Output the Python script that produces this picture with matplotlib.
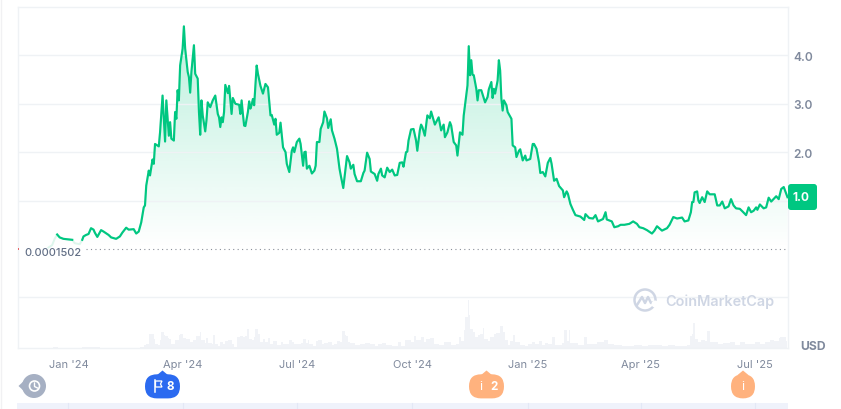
import numpy as np
import matplotlib
matplotlib.use('Agg')
import matplotlib.pyplot as plt
from matplotlib.patches import Circle, FancyBboxPatch, Polygon

plt.rcParams['font.family'] = ['Inter', 'DejaVu Sans']

# Price series, days counted from 1 Jan 2024
days = [-16, -13, -11, -9, -7, -4, 3, 5, 9, 11, 12, 14, 16, 18, 20, 21, 23, 26, 28, 32, 34, 38, 41, 43, 46, 48, 52, 54, 56, 58,
        60, 61, 62, 64, 65, 67, 68, 69, 72, 73, 75, 77, 78, 80, 81, 82, 84, 85, 86, 87, 88, 89, 91, 92, 93, 95, 96, 97, 98, 100,
        101, 103, 104, 105, 106, 107, 109, 110, 111, 113, 115, 117, 119, 120, 121, 122, 123, 124, 125, 127, 128, 130, 131, 133, 136, 137, 138, 139, 140, 141,
        143, 144, 145, 146, 147, 148, 150, 151, 153, 155, 157, 159, 161, 162, 164, 165, 166, 168, 169, 171, 173, 174, 176, 178, 179, 180, 182, 184, 185, 187,
        188, 189, 190, 192, 194, 196, 197, 198, 200, 201, 203, 204, 206, 207, 209, 210, 212, 214, 216, 217, 219, 222, 224, 225, 227, 228, 230, 233, 235, 236,
        238, 240, 241, 244, 246, 247, 249, 250, 252, 254, 256, 258, 260, 262, 264, 266, 267, 269, 270, 271, 273, 275, 277, 278, 280, 281, 282, 284, 286, 288,
        289, 291, 292, 295, 297, 299, 300, 302, 304, 305, 307, 309, 310, 312, 314, 315, 317, 318, 319, 320, 321, 322, 323, 325, 326, 327, 329, 332, 334, 335,
        337, 338, 339, 340, 342, 343, 344, 345, 346, 347, 349, 350, 353, 354, 356, 357, 359, 360, 362, 364, 365, 368, 370, 371, 373, 375, 376, 378, 380, 382,
        384, 385, 387, 389, 391, 394, 395, 397, 398, 400, 402, 404, 408, 411, 412, 415, 418, 420, 422, 426, 428, 429, 433, 435, 438, 440, 443, 447, 450, 453,
        455, 458, 461, 465, 467, 469, 473, 477, 479, 482, 485, 489, 491, 494, 496, 497, 498, 499, 501, 502, 503, 505, 507, 509, 511, 515, 517, 519, 521, 523,
        526, 528, 530, 532, 535, 537, 540, 542, 544, 546, 548, 549, 551, 554, 556, 558, 560, 564, 566, 568, 570, 572, 573]
prices = [.03, .08, .21, .30, .24, .21, .19, .12, .10, .19, .26, .29, .31, .43, .40, .34, .25, .39, .36, .29, .24, .21, .26, .34, .44, .40, .41, .32, .36, .55,
          .86, .90, 1.31, 1.62, 1.52, 1.85, 1.76, 2.17, 2.12, 2.41, 3.17, 2.22, 3.07, 2.34, 2.62, 2.28, 2.24, 2.83, 2.69, 3.28, 3.07, 3.79, 4.14, 4.60, 4.14, 3.66, 3.55, 3.23, 3.66, 4.21,
          3.62, 3.52, 2.83, 2.36, 3.07, 2.76, 2.43, 2.66, 3.03, 2.93, 3.07, 3.17, 2.79, 2.72, 2.52, 2.72, 2.62, 2.83, 3.39, 3.22, 3.37, 2.79, 3.12, 3.00, 2.98, 2.79, 3.07, 2.79, 2.55, 2.54,
          2.83, 3.05, 2.90, 2.98, 3.10, 2.97, 3.79, 3.62, 3.37, 3.21, 3.41, 3.34, 2.76, 2.77, 2.57, 2.69, 2.36, 2.40, 2.61, 2.10, 2.00, 1.76, 1.59, 2.03, 2.10, 2.00, 2.21, 2.28, 2.17, 1.72,
          2.00, 2.01, 1.66, 1.72, 1.56, 1.62, 1.72, 2.21, 2.21, 2.48, 2.62, 2.84, 2.70, 2.50, 2.68, 2.45, 2.28, 2.07, 1.66, 1.52, 1.26, 1.92, 1.79, 1.66, 1.74, 1.55, 1.40, 1.40, 1.57, 1.62,
          1.99, 1.86, 1.60, 1.55, 1.41, 1.55, 1.66, 1.52, 1.48, 1.68, 1.59, 1.64, 1.52, 1.53, 1.78, 1.79, 1.70, 2.00, 2.01, 2.24, 2.47, 2.48, 2.24, 2.03, 2.45, 2.57, 2.52, 2.34, 2.76, 2.70,
          2.84, 2.66, 2.57, 2.72, 2.45, 2.57, 2.31, 2.41, 2.62, 2.55, 2.21, 2.14, 1.93, 2.41, 2.36, 2.76, 3.17, 3.38, 4.19, 3.59, 3.90, 3.60, 3.59, 3.31, 3.07, 3.28, 3.28, 3.03, 3.14, 3.30,
          3.45, 3.12, 3.31, 3.21, 3.48, 3.90, 3.69, 3.10, 2.86, 3.07, 2.97, 2.83, 2.69, 2.14, 2.10, 1.90, 2.03, 2.06, 1.83, 1.93, 1.83, 1.86, 2.17, 2.17, 2.07, 1.79, 1.57, 1.59, 1.50, 1.78,
          1.88, 1.76, 1.41, 1.45, 1.30, 1.21, 1.07, 1.19, 1.14, .93, .81, .70, .67, .60, .72, .64, .63, .70, .57, .62, .76, .61, .57, .45, .47, .50, .50, .52, .57, .52,
          .45, .43, .39, .32, .38, .47, .38, .43, .50, .66, .63, .65, .57, .59, .76, .97, .97, 1.17, 1.19, 1.00, .95, 1.07, .97, 1.19, 1.13, 1.13, .90, .90, .98, .84,
          .88, 1.03, .90, .84, .83, .78, .70, .86, .76, .79, .86, .81, .92, .84, .86, 1.06, .98, 1.09, 1.03, 1.24, 1.28, 1.14, 1.07]

# Volume, relative height of the bars
volume_days = [-12, -8, 11, 25, 57, 60, 62, 64, 66, 68, 69, 71, 73, 74, 76, 77, 79, 80, 82, 85, 88, 89, 91, 94, 97, 99, 102, 105, 106, 109, 110, 111, 114, 115, 117, 119, 121, 123, 125, 127,
               130, 132, 134, 137, 139, 141, 142, 144, 146, 148, 149, 151, 153, 155, 157, 159, 161, 163, 166, 169, 171, 174, 176, 178, 180, 183, 185, 187, 189, 191, 192, 195, 197, 199, 202, 204, 207, 210, 212, 214,
               216, 218, 220, 221, 223, 224, 228, 232, 236, 240, 244, 247, 250, 253, 258, 263, 265, 268, 271, 273, 275, 277, 281, 283, 285, 288, 291, 295, 299, 302, 305, 309, 311, 313, 315, 316, 318, 319, 320, 322,
               324, 326, 328, 330, 331, 334, 336, 339, 341, 344, 346, 348, 350, 352, 354, 356, 360, 364, 366, 369, 372, 375, 377, 380, 382, 385, 388, 391, 393, 395, 397, 399, 400, 402, 406, 411, 413, 417, 421, 424,
               427, 430, 435, 441, 446, 451, 457, 462, 467, 473, 478, 483, 489, 493, 495, 497, 498, 499, 502, 504, 507, 509, 511, 514, 518, 522, 527, 531, 535, 539, 543, 547, 551, 555, 559, 562, 566, 567, 570, 572, 573]
volume = [1, 0, 1, 0, 1, 2.7, 4.3, 13.7, 13.7, 9.3, 4.3, 3.3, 7.7, 16, 12.7, 11.7, 10, 9.3, 3.7, 7.7, 12.7, 13.7, 10, 8.7, 6, 7.7, 11.7, 16, 7.7, 5, 10, 5, 4.3, 12.7, 4.3, 1.7, 6, 4.3, 7, 7.7,
          4.3, 1, 11, 11.7, 11, 11.7, 18.7, 9.3, 7.7, 11, 19, 14.3, 6, 9.3, 6, 10, 4.3, 6.7, 2.7, 6, 3.7, 4.3, 8.3, 6, 3.7, 4.3, 5, 9.3, 5, 7.7, 3.7, 1.7, 7, 8.3, 4.3, 5, 6, 2.7, 4.3, 7,
          6, 17, 12.7, 11.7, 6, 5, 2.7, 4.3, 5.3, 4.3, 1.7, 3.7, 5.3, 3.3, 1.7, 6, 2.3, 7.7, 7.7, 6, 11.7, 7.7, 11, 6, 9, 10, 4.3, 3.3, 5.7, 6, 2.7, 3.7, 11, 6.7, 17.7, 31, 48.3, 32.7, 19.3, 16,
          11, 12.7, 14.3, 20.3, 9.3, 6.7, 11, 13.7, 15, 22, 16, 7.7, 2.7, 7, 12.7, 6, 2.7, 1.7, 4.3, 6, 3.7, 7, 2.7, 5, 4.3, 11, 2.7, 2.7, 5, 18.3, 6.7, 18, 5, 5, 3, 10.7, 4, 4, 5.7, 5.7,
          8, 4, 3, 2.3, 2.3, 3, 2.3, 3.3, 3, 2.3, 3, 2.3, 2.3, 3.3, 12.3, 14, 24.7, 9, 5.7, 8, 7.3, 17.3, 5.7, 5.7, 4, 5, 6.3, 3.3, 5.7, 4, 4, 5.7, 4, 6.3, 8.3, 7.3, 9.7, 10.7, 10.7, 7.3, 7.3]

# Axis ticks, the 1.0 label is carried by the price tag
month_days = [0, 91, 182, 274, 366, 456, 547]
month_labels = ["Jan '24", "Apr '24", "Jul '24", "Oct '24", "Jan '25", "Apr '25", "Jul '25"]
price_ticks = [1, 2, 3, 4]
price_labels = ['', '2.0', '3.0', '4.0']

GREEN = '#00C781'
GRID = '#EFF2F5'
LABEL = '#808A9D'

days = np.array(days)
prices = np.array(prices)

fig = plt.figure(figsize=(8.41, 4.10), dpi=100)
W, H = 841.0, 410.0


# Turn a pixel box of the reference into a figure rectangle
def box(left, top, right, bottom):
    return [left / W, 1 - bottom / H, (right - left) / W, (bottom - top) / H]


# Volume strip sits under the price axes
ax_vol = fig.add_axes(box(17.5, 298, 788, 349))
ax_vol.fill_between(volume_days, volume, 0, step='post', color='#F1F3F7', lw=0)
ax_vol.set_xlim(-40.6, 573.4)
ax_vol.set_ylim(0, 51)
ax_vol.axis('off')

ax = fig.add_axes(box(17.5, 7.5, 788, 349))
ax.patch.set_alpha(0)
ax.set_xlim(-40.6, 573.4)
ax.set_ylim(-2.045, 5.01)

for spine in ax.spines.values():
    spine.set_color(GRID)
    spine.set_linewidth(1.0)

ax.set_yticks(price_ticks)
ax.set_yticklabels(price_labels, fontsize=8.6, fontweight='semibold', color=LABEL)
ax.yaxis.tick_right()
ax.tick_params(axis='y', length=0, pad=4)
ax.set_xticks(month_days)
ax.set_xticklabels(month_labels, fontsize=8, color=LABEL)
ax.tick_params(axis='x', length=0, pad=8.2)
ax.grid(axis='y', color=GRID, lw=1.0, zorder=0)
ax.axhline(-1.0, color=GRID, lw=1.0, zorder=0)

# Gradient fill under the price line
poly = ax.fill_between(days, prices, 0, color='none', lw=0)
gradient = np.zeros((256, 1, 4))
gradient[:, 0, :3] = matplotlib.colors.to_rgb(GREEN)
gradient[:, 0, 3] = np.linspace(0.27, 0.0, 256)
img = ax.imshow(gradient, extent=[days[0], days[-1], 0, prices.max()], aspect='auto', zorder=1)
img.set_clip_path(poly.get_paths()[0], transform=ax.transData)
ax.set_xlim(-40.6, 573.4)
ax.set_ylim(-2.045, 5.01)

# The first days of the line are washed out in the reference
ax.plot(days, prices, color='#DDF6EC', lw=1.4, zorder=2)
for lo, hi in [(-9, 3), (11, 573)]:
    mask = (days >= lo) & (days <= hi)
    ax.plot(days[mask], prices[mask], color=GREEN, lw=1.55, zorder=3, solid_joinstyle='round')

# Overlay in reference pixels for the decorations
ov = fig.add_axes([0, 0, 1, 1])
ov.set_xlim(0, W)
ov.set_ylim(H, 0)
ov.axis('off')
ov.patch.set_alpha(0)

ov.plot([1.5, 1.5], [0, 410], color='#F1F1F3', lw=1)

# Base line of the first price
ov.plot([86, 786], [250, 250], color='#8A8F99', lw=0.8, dashes=(1, 3))
ov.plot([18, 19.5], [250, 250], color='#E5484D', lw=1.2, solid_capstyle='butt')
ov.text(24, 253, '0.0001502', fontsize=7.9, fontweight='medium', color='#616E85', va='center', ha='left')

# Current price tag
ov.add_patch(FancyBboxPatch((790, 187), 25, 22, boxstyle='round,pad=2,rounding_size=3', fc=GREEN, ec='none'))
ov.text(801.5, 198.5, '1.0', fontsize=8.6, fontweight='bold', color='white', ha='center', va='center')

ov.text(813, 347, 'USD', fontsize=8.8, fontweight='bold', color=LABEL, ha='center', va='center')

# Watermark
ov.add_patch(Circle((645, 301), 10.5, fc='none', ec='#CFD6E4', lw=1.8))
ov.plot([637, 642, 645, 648, 651, 654.5], [306, 298, 304, 298, 304, 303], color='#CFD6E4', lw=1.8)
ov.add_patch(Circle((655, 305), 3.5, fc='white', ec='none', zorder=2))
ov.text(665, 302, 'CoinMarketCap', fontsize=10.4, fontweight='semibold', color='#CFD6E4', ha='left', va='center')

# Strip of the range selector at the bottom
ov.fill_between([17.5, 788], 404, 410, color='#EFF2FB', lw=0)
for d in month_days:
    px = 17.5 + (d + 40.6) * 1.2548
    ov.plot([px, px], [404, 410], color='#E3E8F6', lw=0.8)


# Rounded event badge with a small tip on top
def badge(left, right, colour):
    mid = (left + right) / 2
    ov.add_patch(FancyBboxPatch((left + 12, 387.3), right - left - 24, 0.1, boxstyle='round,pad=12,rounding_size=12', fc=colour, ec='none', zorder=4))
    ov.add_patch(Polygon([(mid - 6, 376.5), (mid, 371.5), (mid + 6, 376.5)], fc=colour, ec='none', zorder=4))


badge(145, 180, '#2B6AF0')
ov.plot([155.5, 155.5], [393, 381], color='white', lw=1.1, zorder=5)
ov.add_patch(Polygon([(155.5, 382), (162, 382), (160.5, 385), (162, 388), (155.5, 388)], fc='none', ec='white', lw=0.9, zorder=5))
ov.text(170.5, 387, '8', fontsize=8.4, fontweight='bold', color='white', ha='center', va='center', zorder=5)

badge(469, 504, '#FFB27E')
ov.text(481, 387, 'i', fontsize=9, color='white', ha='center', va='center', zorder=5)
ov.text(494, 387, '2', fontsize=8.4, fontweight='bold', color='white', ha='center', va='center', zorder=5)

badge(731, 755, '#FFB27E')
ov.text(743, 387, 'i', fontsize=9, color='white', ha='center', va='center', zorder=5)

# History button
ov.add_patch(Circle((34, 387), 12, fc='#A6B0C3', ec='none', zorder=4))
ov.add_patch(Polygon([(18.5, 387), (26, 380), (26, 394)], fc='#A6B0C3', ec='none', zorder=4))
ov.add_patch(Circle((34.5, 387), 5, fc='none', ec='white', lw=1.2, zorder=5))
ov.plot([34.5, 34.5, 37.5], [384, 387.5, 389], color='white', lw=1, zorder=5)

fig.savefig('out.png', dpi=100)
